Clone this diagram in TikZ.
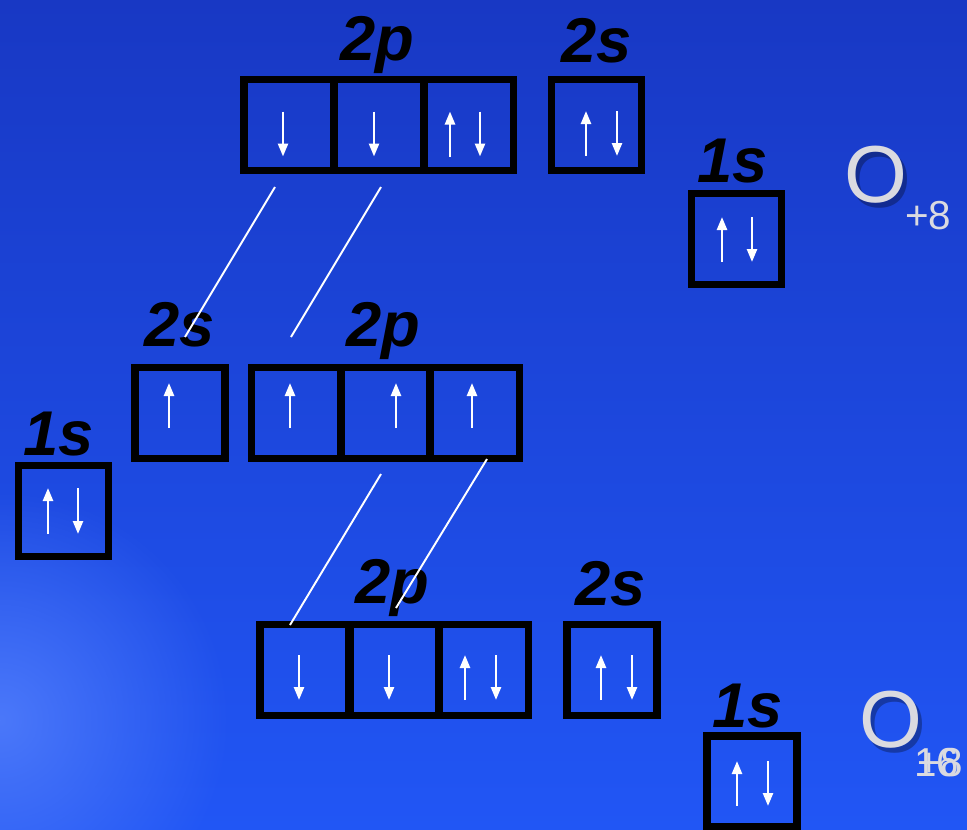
\documentclass[tikz,border=0pt]{standalone}
\usepackage{fontspec}
\setmainfont{Liberation Sans}
\usepackage{xcolor}
\usetikzlibrary{positioning,arrows.meta,fadings}

\definecolor{bgtop}{RGB}{24,56,196}
\definecolor{bgbot}{RGB}{33,86,245}
\definecolor{glow}{RGB}{75,120,250}
\definecolor{elem}{RGB}{218,218,224}

\tikzfading[name=glowfade, inner color=transparent!0, outer color=transparent!100]

\tikzset{
  orb/.style={draw=black, line width=4.5pt, minimum width=1.8cm, minimum height=1.82cm, inner sep=0pt},
  spin/.style={draw=white, line width=1.4pt, -{Triangle[width=0.2cm,length=0.26cm]}},
  lvl/.style={font=\fontsize{36}{36}\selectfont\bfseries\itshape, anchor=base},
  link/.style={draw=white, line width=1.1pt},
  elm/.style={text=elem, font=\fontsize{46}{46}\selectfont},
  chg/.style={text=elem, font=\fontsize{23}{23}\selectfont, anchor=base west, inner sep=0pt},
}

\begin{document}
\begin{tikzpicture}[x=0.02cm, y=-0.02cm]
    \useasboundingbox (0,0) rectangle (967,829);
    % background
    \fill[top color=bgtop, bottom color=bgbot] (0,0) rectangle (967,829);
    \fill[glow, path fading=glowfade] (0,720) circle (230);

    % upper atom
    \node[orb] (t2pa) at (289,125) {};
    \node[orb] (t2pb) at (379,125) {};
    \node[orb] (t2pc) at (468.5,125) {};
    \node[orb] (t2s) at (596.5,125) {};
    \node[orb] (t1s) at (736.5,239) {};
    \node[lvl] (t2pl) at (377,60) {2p};
    \node[lvl] (t2sl) at (597,62) {2s};
    \node[lvl] (t1sl) at (733,182) {1s};

    \draw[spin] ([shift={(-6,-13.5)}]t2pa.center) -- ++(0,45);
    \draw[spin] ([shift={(-5,-13.5)}]t2pb.center) -- ++(0,45);
    \draw[spin] ([shift={(-18.5,31.5)}]t2pc.center) -- ++(0,-45);
    \draw[spin] ([shift={(11.5,-13.5)}]t2pc.center) -- ++(0,45);
    \draw[spin] ([shift={(-10.5,31)}]t2s.center) -- ++(0,-45);
    \draw[spin] ([shift={(20.5,-14)}]t2s.center) -- ++(0,45);
    \draw[spin] ([shift={(-14.5,23)}]t1s.center) -- ++(0,-45);
    \draw[spin] ([shift={(15.5,-22)}]t1s.center) -- ++(0,45);

    % middle atom
    \node[orb] (m2s) at (180,413) {};
    \node[orb] (m2pa) at (296.5,413) {};
    \node[orb] (m2pb) at (385.5,413) {};
    \node[orb] (m2pc) at (474.5,413) {};
    \node[orb] (m1s) at (63.5,511) {};
    \node[lvl] (m2sl) at (180,346) {2s};
    \node[lvl] (m2pl) at (383,346) {2p};
    \node[lvl] (m1sl) at (59,455) {1s};

    \draw[spin] ([shift={(-11,15)}]m2s.center) -- ++(0,-45);
    \draw[spin] ([shift={(-6.5,15)}]m2pa.center) -- ++(0,-45);
    \draw[spin] ([shift={(10.5,15)}]m2pb.center) -- ++(0,-45);
    \draw[spin] ([shift={(-2.5,15)}]m2pc.center) -- ++(0,-45);
    \draw[spin] ([shift={(-15.5,23)}]m1s.center) -- ++(0,-46);
    \draw[spin] ([shift={(14.5,-23)}]m1s.center) -- ++(0,46);

    % lower atom
    \node[orb] (b2pa) at (305,670) {};
    \node[orb] (b2pb) at (394,670) {};
    \node[orb] (b2pc) at (483.5,670) {};
    \node[orb] (b2s) at (612,670) {};
    \node[orb] (b1s) at (752,781.5) {};
    \node[lvl] (b2pl) at (392,603) {2p};
    \node[lvl] (b2sl) at (611,605) {2s};
    \node[lvl] (b1sl) at (748,727) {1s};

    \draw[spin] ([shift={(-6,-15)}]b2pa.center) -- ++(0,45);
    \draw[spin] ([shift={(-5,-15)}]b2pb.center) -- ++(0,45);
    \draw[spin] ([shift={(-18.5,30)}]b2pc.center) -- ++(0,-45);
    \draw[spin] ([shift={(12.5,-15)}]b2pc.center) -- ++(0,45);
    \draw[spin] ([shift={(-11,30)}]b2s.center) -- ++(0,-45);
    \draw[spin] ([shift={(20,-15)}]b2s.center) -- ++(0,45);
    \draw[spin] ([shift={(-15,24.5)}]b1s.center) -- ++(0,-45);
    \draw[spin] ([shift={(16,-20.5)}]b1s.center) -- ++(0,45);

    % element symbols
    \node[elm, text=black, opacity=0.3] at (880,180) {O};
    \node[elm] (otop) at (876,175) {O};
    \node[chg] (otopq) at (905,229) {+8};
    \node[elm, text=black, opacity=0.3] at (895,725) {O};
    \node[elm] (obot) at (891,720) {O};
    \node[chg] (obotm) at (914,776) {16};
    \node[chg] (obotq) at (917,776) {+8};

    % connectors
    \coordinate (c1a) at (275,187);
    \coordinate (c1b) at (185,337);
    \coordinate (c2a) at (381,187);
    \coordinate (c2b) at (291,337);
    \coordinate (c3a) at (381,474);
    \coordinate (c3b) at (290,625);
    \coordinate (c4a) at (487,459);
    \coordinate (c4b) at (396,608);
    \draw[link] (c1a) -- (c1b);
    \draw[link] (c2a) -- (c2b);
    \draw[link] (c3a) -- (c3b);
    \draw[link] (c4a) -- (c4b);
\end{tikzpicture}
\end{document}
